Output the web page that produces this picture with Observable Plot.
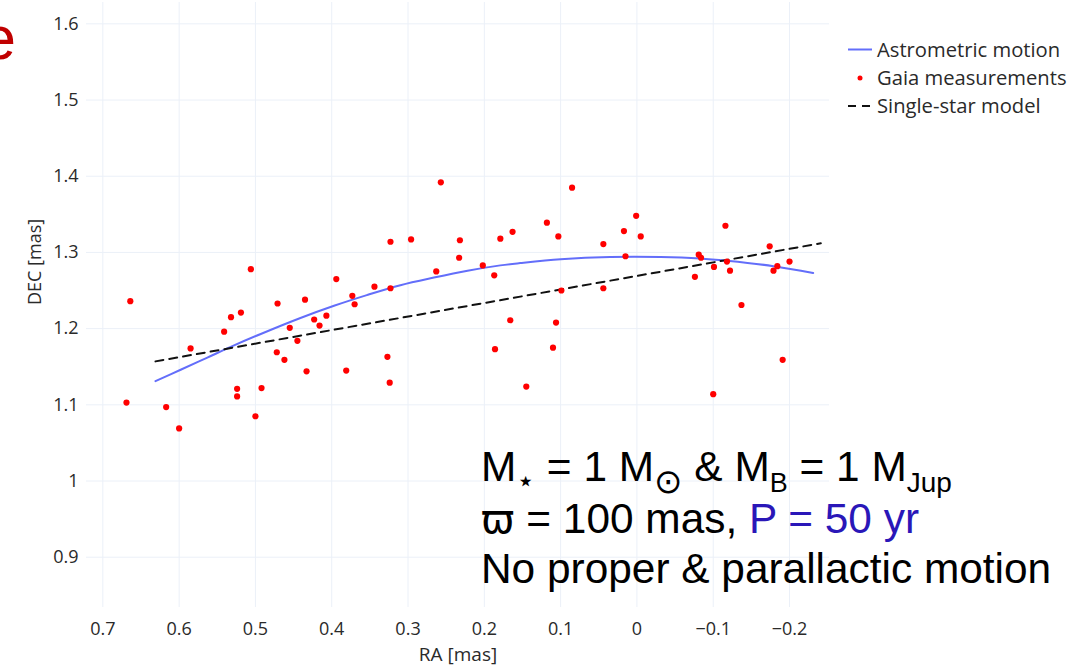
<!DOCTYPE html>
<html>
<head>
<meta charset="utf-8">
<script src="https://cdn.jsdelivr.net/npm/d3@7"></script>
<script src="https://cdn.jsdelivr.net/npm/@observablehq/plot@0.6"></script>
<style>
  html, body { margin: 0; padding: 0; background: #fff; }
  #wrap { position: relative; width: 1092px; height: 671px; overflow: hidden; }
  #wrap > svg.overlay { position: absolute; left: 0; top: 0; pointer-events: none; }
</style>
</head>
<body>
<div id="wrap"></div>
<script>
// ---- data ----
const xTicks = [0.7, 0.6, 0.5, 0.4, 0.3, 0.2, 0.1, 0, -0.1, -0.2];
const xTickLabels = ["0.7", "0.6", "0.5", "0.4", "0.3", "0.2", "0.1", "0", "\u22120.1", "\u22120.2"];
const yTicks = [0.9, 1, 1.1, 1.2, 1.3, 1.4, 1.5, 1.6];
const yTickLabels = ["0.9", "1", "1.1", "1.2", "1.3", "1.4", "1.5", "1.6"];

const gaiaRA = [0.664,0.669,0.617,0.600,0.585,0.506,0.541,0.532,0.519,0.524,0.524,0.492,0.500,0.471,0.472,0.462,0.455,0.445,0.435,0.433,0.423,0.416,0.407,0.394,0.381,0.373,0.370,0.344,0.323,0.327,0.324,0.263,
  0.257,0.323,0.296,0.233,0.232,0.202,0.187,0.179,0.163,0.166,0.186,0.145,0.118,0.103,0.085,0.099,0.106,0.110,0.044,0.044,0.017,0.015,0.001,-0.005,
  -0.076,-0.081,-0.084,-0.101,-0.116,-0.118,-0.122,-0.137,-0.100,-0.174,-0.179,-0.184,-0.200,-0.191];
const gaiaDEC = [1.236,1.103,1.097,1.069,1.174,1.278,1.196,1.215,1.221,1.121,1.111,1.122,1.085,1.233,1.169,1.159,1.201,1.184,1.238,1.144,1.212,1.204,1.217,1.265,1.145,1.243,1.232,1.255,1.253,1.163,1.129,1.275,
  1.392,1.314,1.317,1.293,1.316,1.283,1.270,1.318,1.327,1.211,1.173,1.124,1.339,1.321,1.385,1.250,1.208,1.175,1.311,1.253,1.328,1.295,1.348,1.321,
  1.268,1.297,1.293,1.281,1.335,1.288,1.276,1.231,1.114,1.308,1.276,1.282,1.288,1.159];

const orbitRA  = [0.631,0.598,0.563,0.528,0.493,0.441,0.397,0.354,0.310,0.266,0.222,0.179,0.153,0.100,0.035,-0.031,-0.083,-0.118,-0.179,-0.231];
const orbitDEC = [1.131,1.146,1.162,1.178,1.193,1.214,1.230,1.244,1.257,1.267,1.276,1.283,1.286,1.291,1.294,1.294,1.292,1.289,1.282,1.273];

const modelRA  = [0.631, -0.241];
const modelDEC = [1.157, 1.312];

const seriesNames = ["Astrometric motion", "Gaia measurements", "Single-star model"];

// ---- build tables ----
const gaia = gaiaRA.map((x, i) => ({x, y: gaiaDEC[i]}));
const orbit = orbitRA.map((x, i) => ({x, y: orbitDEC[i]}));
const model = modelRA.map((x, i) => ({x, y: modelDEC[i]}));
const xLab = new Map(xTicks.map((t, i) => [t, xTickLabels[i]]));
const yLab = new Map(yTicks.map((t, i) => [t, yTickLabels[i]]));

const textColor = "#2a2a2a";
const gridColor = "#ebf0f8";

const chart = Plot.plot({
  width: 1092,
  height: 671,
  marginLeft: 86,
  marginRight: 263,
  marginTop: 2,
  marginBottom: 64,
  style: {fontFamily: "'Open Sans', 'Noto Sans', sans-serif", fontSize: "18px", color: textColor, background: "transparent"},
  x: {domain: [0.7214, -0.2524], label: null},
  y: {domain: [0.834, 1.628], label: null},
  marks: [
    Plot.gridX(xTicks, {stroke: gridColor, strokeOpacity: 1, strokeWidth: 1}),
    Plot.gridY(yTicks, {stroke: gridColor, strokeOpacity: 1, strokeWidth: 1}),
    Plot.axisX(xTicks, {tickSize: 0, tickPadding: 15, tickFormat: d => xLab.get(d), label: null, fill: textColor, fontSize: 18}),
    Plot.axisY(yTicks, {tickSize: 0, tickPadding: 8, tickFormat: d => yLab.get(d), label: null, fill: textColor, fontSize: 18}),
    Plot.text(["RA [mas]"], {frameAnchor: "bottom", dy: 53, text: d => d, fill: textColor, fontSize: 19}),
    Plot.text(["DEC [mas]"], {frameAnchor: "left", dx: -51, rotate: -90, text: d => d, fill: textColor, fontSize: 18}),
    Plot.line(orbit, {x: "x", y: "y", stroke: "#636efa", strokeWidth: 2, curve: "catmull-rom"}),
    Plot.line(model, {x: "x", y: "y", stroke: "#111", strokeWidth: 2, strokeDasharray: "8,6"}),
    Plot.dot(gaia, {x: "x", y: "y", r: 3.1, fill: "#ff0000", stroke: "none"})
  ]
});
const wrap = document.getElementById("wrap");
wrap.appendChild(chart);

// ---- overlay: legend, annotation, cut-off slide text ----
const ov = d3.select(wrap).append("svg").attr("class", "overlay")
  .attr("width", 1092).attr("height", 671);

// legend
const lg = ov.append("g").attr("font-family", "'Open Sans', 'Noto Sans', sans-serif").attr("font-size", 20.2).attr("fill", textColor);
lg.append("line").attr("x1", 848).attr("x2", 872).attr("y1", 49.5).attr("y2", 49.5).attr("stroke", "#636efa").attr("stroke-width", 2);
lg.append("text").attr("x", 877).attr("y", 56.5).text(seriesNames[0]);
lg.append("circle").attr("cx", 860).attr("cy", 78).attr("r", 2.5).attr("fill", "#ff0000");
lg.append("text").attr("x", 877).attr("y", 85).text(seriesNames[1]);
lg.append("line").attr("x1", 848).attr("x2", 870).attr("y1", 106).attr("y2", 106).attr("stroke", "#111").attr("stroke-width", 2).attr("stroke-dasharray", "8,6");
lg.append("text").attr("x", 877).attr("y", 113).text(seriesNames[2]);

// annotation
const an = ov.append("g").attr("font-family", "'Liberation Sans', Arial, 'DejaVu Sans', sans-serif").attr("font-size", 42.4).attr("fill", "#000");
const l1 = an.append("text").attr("x", 481).attr("y", 481);
l1.append("tspan").text("M");
l1.append("tspan").attr("font-size", 30).attr("dy", 10).attr("font-family", "'DejaVu Sans'").text("\u22C6");
l1.append("tspan").attr("dy", -10).text(" = 1 M");
l1.append("tspan").attr("font-size", 34).attr("dy", 12).attr("font-family", "'DejaVu Sans'").text("\u2299");
l1.append("tspan").attr("dy", -12).text(" & M");
l1.append("tspan").attr("font-size", 27).attr("dy", 11).text("B");
l1.append("tspan").attr("dy", -11).text(" = 1 M");
l1.append("tspan").attr("font-size", 28).attr("dy", 11).text("Jup");

const l2 = an.append("text").attr("x", 481).attr("y", 533);
l2.append("tspan").attr("font-family", "'DejaVu Sans'").attr("font-size", 40).text("\u03D6");
l2.append("tspan").text(" = 100 mas, ");
l2.append("tspan").attr("fill", "#2a17b8").text("P = 50 yr");

an.append("text").attr("x", 481).attr("y", 583).text("No proper & parallactic motion");

// cut-off red letter from slide title
ov.append("text").attr("x", 16).attr("y", 59).attr("text-anchor", "end")
  .attr("font-family", "'Liberation Sans', Arial, sans-serif").attr("font-size", 62).attr("fill", "#c00000").text("e");
</script>
</body>
</html>
